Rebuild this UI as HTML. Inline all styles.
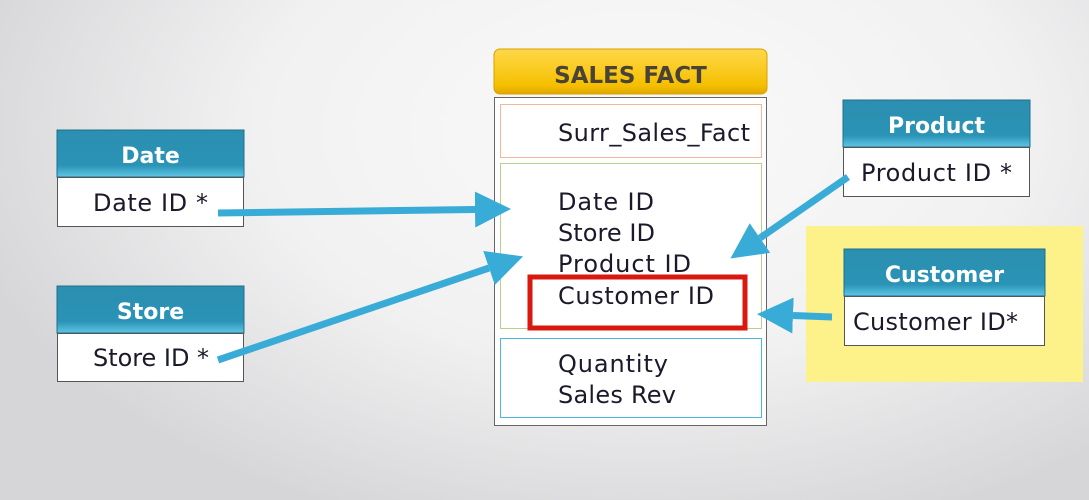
<!DOCTYPE html>
<html><head><meta charset="utf-8"><style>
html,body{margin:0;padding:0;width:1089px;height:500px;overflow:hidden}
body{background:radial-gradient(ellipse 700px 420px at 640px 130px,#fafafa 0%,#f1f1f2 55%,#d6d6d8 100%);}
svg{position:absolute;left:0;top:0}
text{font-family:"DejaVu Sans","Liberation Sans",sans-serif;}
</style></head><body>
<svg width="1089" height="500" viewBox="0 0 1089 500">
<defs>
<linearGradient id="teal" x1="0" y1="0" x2="0" y2="1">
<stop offset="0" stop-color="#2b8fb0"/><stop offset="0.75" stop-color="#2a93b6"/><stop offset="1" stop-color="#5ec5e4"/></linearGradient>
<linearGradient id="gold" x1="0" y1="0" x2="0" y2="1">
<stop offset="0" stop-color="#ffd84a"/><stop offset="0.8" stop-color="#f5c000"/><stop offset="1" stop-color="#e0a800"/></linearGradient>
<marker id="ah" markerUnits="userSpaceOnUse" viewBox="0 0 36 36" refX="0" refY="18" markerWidth="36" markerHeight="36" orient="auto">
<path d="M0,0 L36,18 L0,36 Z" fill="#38acd6"/></marker>
</defs>
<rect x="806" y="226" width="277" height="156" fill="#fdf28a"/>

<rect x="57" y="130" width="187" height="47" fill="url(#teal)" stroke="#1f6f8a"/>
<text x="150.5" y="163" text-anchor="middle" font-size="22" font-weight="bold" fill="#fff">Date</text>
<rect x="57.5" y="177.5" width="186" height="49" fill="#fff" stroke="#555"/>
<text x="93" y="211" font-size="24" fill="#1a1a2a" textLength="115">Date ID *</text>

<rect x="57" y="286" width="187" height="47" fill="url(#teal)" stroke="#1f6f8a"/>
<text x="150.5" y="319" text-anchor="middle" font-size="22" font-weight="bold" fill="#fff">Store</text>
<rect x="57.5" y="333.5" width="186" height="48" fill="#fff" stroke="#555"/>
<text x="93" y="366" font-size="24" fill="#1a1a2a" textLength="116">Store ID *</text>

<rect x="843" y="100" width="187" height="47" fill="url(#teal)" stroke="#1f6f8a"/>
<text x="936.5" y="133" text-anchor="middle" font-size="22" font-weight="bold" fill="#fff">Product</text>
<rect x="843.5" y="147.5" width="186" height="49" fill="#fff" stroke="#555"/>
<text x="861" y="181" font-size="24" fill="#1a1a2a" textLength="151">Product ID *</text>

<rect x="844" y="249" width="201" height="47" fill="url(#teal)" stroke="#1f6f8a"/>
<text x="944.5" y="282" text-anchor="middle" font-size="22" font-weight="bold" fill="#fff">Customer</text>
<rect x="844.5" y="296.5" width="200" height="49" fill="#fff" stroke="#555"/>
<text x="853" y="330" font-size="24" fill="#1a1a2a" textLength="165">Customer ID*</text>

<rect x="494" y="49" width="273" height="45" rx="6" fill="url(#gold)" stroke="#d9a000"/>
<text x="630.5" y="83" text-anchor="middle" font-size="23" font-weight="bold" fill="#4a4236">SALES FACT</text>
<rect x="494.5" y="97.5" width="272" height="328" fill="#fff" stroke="#666"/>
<rect x="500.5" y="104.5" width="261" height="53" fill="none" stroke="#f2b79a"/>
<rect x="500.5" y="163.5" width="261" height="165" fill="none" stroke="#b7d18c"/>
<rect x="500.5" y="338.5" width="261" height="79" fill="none" stroke="#49b7df"/>
<rect x="530" y="277" width="215" height="51" fill="none" stroke="#d9180f" stroke-width="5"/>
<g font-size="24" fill="#1a1a2a">
<text x="558" y="141" textLength="192">Surr_Sales_Fact</text>
<text x="558" y="210" textLength="96">Date ID</text>
<text x="558" y="241" textLength="97">Store ID</text>
<text x="558" y="272" textLength="133">Product ID</text>
<text x="558" y="304" textLength="156">Customer ID</text>
<text x="558" y="372" textLength="110">Quantity</text>
<text x="558" y="403" textLength="118">Sales Rev</text>
</g>

<g stroke="#38acd6" stroke-width="7" fill="none">
<line x1="218" y1="213" x2="475" y2="209.5" marker-end="url(#ah)"/>
<line x1="218" y1="360" x2="489" y2="268" marker-end="url(#ah)"/>
<line x1="848" y1="177" x2="760" y2="238" marker-end="url(#ah)"/>
<line x1="832" y1="317" x2="793" y2="315.5" marker-end="url(#ah)"/>
</g>
</svg>
</body></html>
